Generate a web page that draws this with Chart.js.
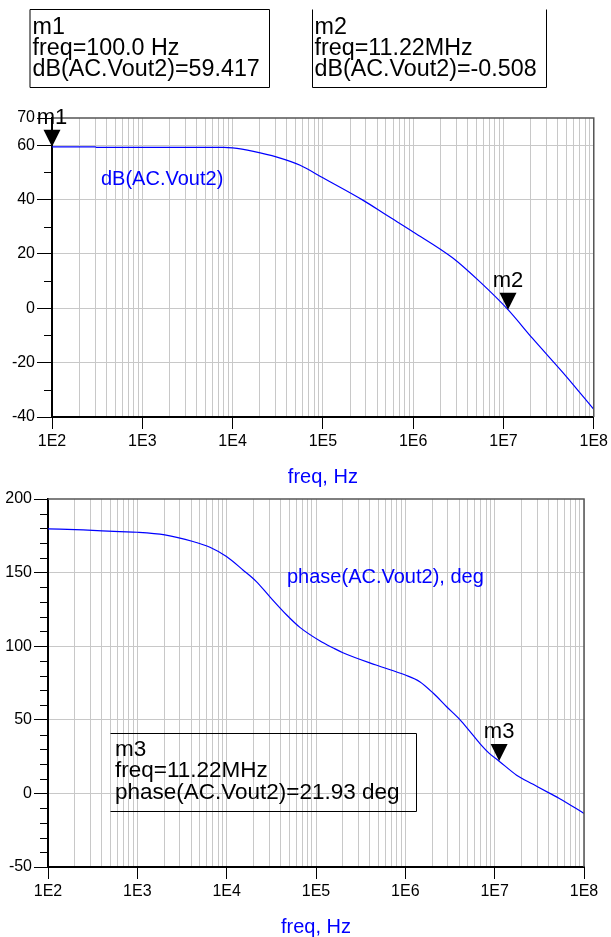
<!DOCTYPE html>
<html>
<head>
<meta charset="utf-8">
<script src="https://cdn.jsdelivr.net/npm/chart.js@4.4.0/dist/chart.umd.min.js"></script>
<style>
html, body { margin: 0; padding: 0; background: #fff; }
#wrap { position: relative; width: 611px; height: 937px; overflow: hidden; }
canvas { position: absolute; left: 0; top: 0; }
</style>
</head>
<body>
<div id="wrap">
  <canvas id="magChart" width="611" height="937"></canvas>
  <canvas id="phaseChart" width="611" height="937"></canvas>
</div>
<script>
// gain trace
const magFreq = [100, 300, 310, 1000, 3000, 8000, 10000, 17000, 31000, 56000, 100000, 280000, 510000, 1000000, 2750000, 5500000, 11220000, 21000000, 50000000, 100000000];
const magDb = [59.4, 59.4, 59.2, 59.2, 59.2, 59.2, 59.0, 57.7, 55.6, 52.6, 48.0, 39.7, 34.2, 28.1, 18.5, 9.7, -0.5, -11.1, -25.2, -37.2];

// phase trace
const phaseFreq = [100, 247, 635, 1000, 2030, 4200, 6500, 9950, 15200, 21500, 30000, 47000, 66000, 110000, 156000, 200000, 470000, 1000000, 1450000, 2060000, 2900000, 4100000, 5250000, 6800000, 8700000, 11220000, 17600000, 27000000, 41500000, 53000000, 100000000];
const phaseDeg = [179.7, 179.0, 177.8, 177.4, 175.6, 171.1, 167.2, 160.9, 151.8, 143.9, 134.0, 121.2, 112.8, 103.7, 98.8, 95.6, 87.2, 80.4, 75.9, 68.0, 58.9, 50.0, 42.3, 34.0, 27.2, 21.9, 12.4, 6.2, 0.0, -3.4, -13.6];

// axes
const decadeTicks = [1e2, 1e3, 1e4, 1e5, 1e6, 1e7, 1e8];
const decadeLabels = ['1E2', '1E3', '1E4', '1E5', '1E6', '1E7', '1E8'];
const magLabels = [70, 60, 40, 20, 0, -20, -40];
const magGridLines = [60, 40, 20, 0, -20];
const phaseLabels = [200, 150, 100, 50, 0, -50];
const phaseGridLines = [150, 100, 50, 0];

// markers
const magMarkerNames = ['m1', 'm2'];
const magMarkerFreq = [100, 11220000];
const magMarkerValue = [59.417, -0.508];
const phaseMarkerNames = ['m3'];
const phaseMarkerFreq = [11220000];
const phaseMarkerValue = [21.93];

const m1Text = ['m1', 'freq=100.0 Hz', 'dB(AC.Vout2)=59.417'];
const m2Text = ['m2', 'freq=11.22MHz', 'dB(AC.Vout2)=-0.508'];
const m3Text = ['m3', 'freq=11.22MHz', 'phase(AC.Vout2)=21.93 deg'];

const FONT = "'Liberation Sans', Arial, sans-serif";
Chart.defaults.font.family = FONT;
Chart.defaults.color = '#000';

const BLUE = '#0000ff';
const GRID = '#c8c8c8';
const CLEAR = 'rgba(0,0,0,0)';

// 1..9 per decade for the vertical grid
const freqGrid = [];
for (let i = 0; i < decadeTicks.length; i++) {
  for (let n = 1; n <= 9; n++) {
    const v = n * decadeTicks[i];
    if (v <= decadeTicks[decadeTicks.length - 1]) freqGrid.push(v);
  }
}

function decadeIndex(v) {
  return decadeTicks.findIndex(d => Math.abs(v - d) < d * 1e-6);
}

function stepTicks(min, max, step) {
  const t = [];
  for (let v = min; v <= max; v += step) t.push({ value: v });
  return t;
}

function xScale(yHeight) {
  return {
    type: 'logarithmic',
    min: 1e2,
    max: 1e8,
    afterBuildTicks: s => { s.ticks = freqGrid.map(v => ({ value: v })); },
    afterFit: s => { s.height = yHeight; },
    ticks: {
      autoSkip: false,
      maxRotation: 0,
      padding: 3,
      font: { size: 16 },
      callback: v => { const i = decadeIndex(v); return i >= 0 ? decadeLabels[i] : ''; }
    },
    grid: {
      color: GRID,
      lineWidth: 1,
      tickLength: 12,
      tickColor: c => decadeIndex(c.tick.value) >= 0 ? '#000' : CLEAR
    },
    border: { color: '#000', width: 2 },
    title: {
      display: true,
      text: 'freq, Hz',
      color: BLUE,
      font: { size: 20, lineHeight: 1 },
      padding: { top: 0, bottom: 0 }
    }
  };
}

function yScale(min, max, labels, gridLines, width, tickLen) {
  return {
    type: 'linear',
    min: min,
    max: max,
    afterBuildTicks: s => { s.ticks = stepTicks(min, max, 10); },
    afterFit: s => { s.width = width; },
    ticks: {
      autoSkip: false,
      padding: 2,
      font: { size: 16 },
      callback: v => labels.includes(v) ? String(v) : ''
    },
    grid: {
      lineWidth: 1,
      tickLength: tickLen,
      color: c => gridLines.includes(c.tick.value) ? GRID : CLEAR,
      tickColor: c => labels.includes(c.tick.value) ? '#000' : CLEAR
    },
    border: { color: '#000', width: 2 }
  };
}

function drawBox(ctx, box) {
  ctx.save();
  ctx.strokeStyle = '#000';
  ctx.lineWidth = 1;
  ctx.beginPath();
  const { l, t, r, b, sides } = box;
  if (sides.includes('t')) { ctx.moveTo(l, t); ctx.lineTo(r, t); }
  if (sides.includes('r')) { ctx.moveTo(r, t); ctx.lineTo(r, b); }
  if (sides.includes('b')) { ctx.moveTo(l, b); ctx.lineTo(r, b); }
  if (sides.includes('l')) { ctx.moveTo(l, t); ctx.lineTo(l, b); }
  ctx.stroke();
  ctx.fillStyle = '#000';
  ctx.font = box.size + 'px ' + FONT;
  ctx.textBaseline = 'alphabetic';
  ctx.textAlign = 'left';
  box.lines.forEach((s, i) => ctx.fillText(s, box.tx, box.ty + i * box.lh));
  ctx.restore();
}

// frame, minor ticks, markers and readouts
const adsPlugin = {
  id: 'ads',
  afterDraw(chart, args, opts) {
    const ctx = chart.ctx;
    const a = chart.chartArea;
    const xs = chart.scales.x, ys = chart.scales.y;
    ctx.save();
    // top and right frame
    ctx.strokeStyle = '#555';
    ctx.lineWidth = 1.5;
    ctx.beginPath();
    ctx.moveTo(a.left, a.top); ctx.lineTo(a.right, a.top); ctx.lineTo(a.right, a.bottom);
    ctx.stroke();
    // short minor ticks on y
    ctx.strokeStyle = '#000';
    ctx.lineWidth = 1;
    ctx.beginPath();
    ys.ticks.forEach(t => {
      if (opts.labels.includes(t.value)) return;
      const py = Math.round(ys.getPixelForValue(t.value)) + 0.5;
      ctx.moveTo(a.left - 8, py); ctx.lineTo(a.left, py);
    });
    ctx.stroke();
    // trace name
    ctx.fillStyle = BLUE;
    ctx.font = '20px ' + FONT;
    ctx.textAlign = 'left';
    ctx.textBaseline = 'middle';
    ctx.fillText(opts.trace.text, opts.trace.x, opts.trace.y);
    // markers
    opts.markers.names.forEach((name, i) => {
      const px = xs.getPixelForValue(opts.markers.freq[i]);
      const py = ys.getPixelForValue(opts.markers.value[i]);
      ctx.fillStyle = '#000';
      ctx.beginPath();
      ctx.moveTo(px, py);
      ctx.lineTo(px - 8.5, py - 17);
      ctx.lineTo(px + 8.5, py - 17);
      ctx.closePath();
      ctx.fill();
      ctx.font = '22px ' + FONT;
      ctx.textAlign = 'center';
      ctx.textBaseline = 'middle';
      ctx.fillText(name, px, py - 29);
    });
    ctx.restore();
    opts.boxes.forEach(b => drawBox(ctx, b));
  }
};

function lineSet(freq, vals) {
  return {
    data: freq.map((f, i) => ({ x: f, y: vals[i] })),
    borderColor: BLUE,
    borderWidth: 1.2,
    pointRadius: 0,
    cubicInterpolationMode: 'monotone',
    fill: false
  };
}

new Chart(document.getElementById('magChart'), {
  type: 'line',
  data: { datasets: [lineSet(magFreq, magDb)] },
  options: {
    responsive: false,
    animation: false,
    devicePixelRatio: 1,
    layout: { padding: { top: 118, left: 0, right: 16, bottom: 450 } },
    scales: {
      x: xScale(70),
      y: yScale(-40, 70, magLabels, magGridLines, 52, 15)
    },
    plugins: {
      legend: { display: false },
      tooltip: { enabled: false },
      ads: {
        labels: magLabels,
        trace: { text: 'dB(AC.Vout2)', x: 101, y: 179 },
        markers: { names: magMarkerNames, freq: magMarkerFreq, value: magMarkerValue },
        boxes: [
          { l: 30, t: 9.5, r: 269.5, b: 87.5, sides: 'trbl', lines: m1Text, tx: 32.5, ty: 33.5, lh: 21, size: 23.3 },
          { l: 312.5, t: 9.5, r: 546.5, b: 87.5, sides: 'rbl', lines: m2Text, tx: 314.5, ty: 33.5, lh: 21, size: 23.3 }
        ]
      }
    }
  },
  plugins: [adsPlugin]
});

new Chart(document.getElementById('phaseChart'), {
  type: 'line',
  data: { datasets: [lineSet(phaseFreq, phaseDeg)] },
  options: {
    responsive: false,
    animation: false,
    devicePixelRatio: 1,
    layout: { padding: { top: 499, left: 0, right: 27, bottom: 0 } },
    scales: {
      x: xScale(70),
      y: yScale(-50, 200, phaseLabels, phaseGridLines, 48, 14)
    },
    plugins: {
      legend: { display: false },
      tooltip: { enabled: false },
      ads: {
        labels: phaseLabels,
        trace: { text: 'phase(AC.Vout2), deg', x: 287, y: 577 },
        markers: { names: phaseMarkerNames, freq: phaseMarkerFreq, value: phaseMarkerValue },
        boxes: [
          { l: 110.5, t: 733.5, r: 416.5, b: 811.5, sides: 'trb', lines: m3Text, tx: 115, ty: 755.5, lh: 21.5, size: 22.5 }
        ]
      }
    }
  },
  plugins: [adsPlugin]
});
</script>
</body>
</html>
